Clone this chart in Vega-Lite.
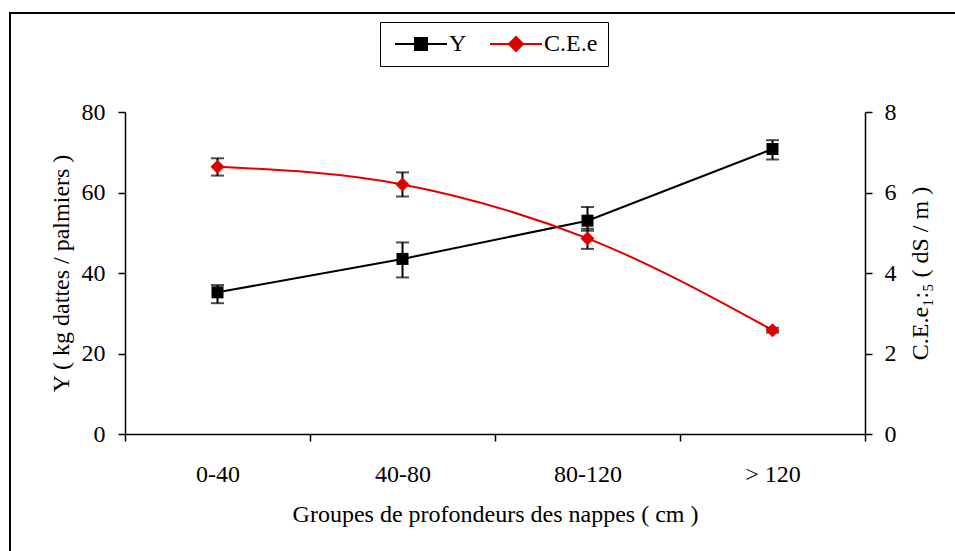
{
  "$schema": "https://vega.github.io/schema/vega-lite/v6.json",
  "width": 955,
  "height": 552,
  "autosize": {"type": "none"},
  "padding": {"left": 10, "top": 13, "right": 0, "bottom": 0},
  "background": "white",
  "config": {
    "font": "Liberation Serif",
    "view": {"stroke": "black", "strokeWidth": 2},
    "axis": {
      "labelFont": "Liberation Serif",
      "titleFont": "Liberation Serif",
      "labelFontSize": 24,
      "titleFontSize": 24,
      "labelColor": "black",
      "titleColor": "black",
      "domainColor": "black",
      "tickColor": "black",
      "domainWidth": 1.5,
      "tickWidth": 1.5,
      "tickSize": 7,
      "grid": false,
      "titleFontWeight": "normal"
    },
    "legend": {
      "labelFont": "Liberation Serif",
      "labelFontSize": 24,
      "labelColor": "black"
    }
  },
  "datasets": {
    "Y": [
      {"g": "0-40", "s": "Y", "v": 35.2, "lo": 32.5, "hi": 37.0},
      {"g": "40-80", "s": "Y", "v": 43.5, "lo": 38.9, "hi": 47.6},
      {"g": "80-120", "s": "Y", "v": 53.0, "lo": 50.5, "hi": 56.4},
      {"g": "> 120", "s": "Y", "v": 70.8, "lo": 68.2, "hi": 73.0}
    ],
    "CE": [
      {"g": "0-40", "s": "C.E.e", "v": 6.64, "lo": 6.42, "hi": 6.85},
      {"g": "40-80", "s": "C.E.e", "v": 6.2, "lo": 5.9, "hi": 6.5},
      {"g": "80-120", "s": "C.E.e", "v": 4.86, "lo": 4.6, "hi": 5.1},
      {"g": "> 120", "s": "C.E.e", "v": 2.58, "lo": 2.52, "hi": 2.64}
    ]
  },
  "encoding": {
    "x": {
      "field": "g",
      "type": "nominal",
      "sort": ["0-40", "40-80", "80-120", "> 120"],
      "scale": {"type": "band", "paddingInner": 0, "paddingOuter": 0, "range": [115, 855]},
      "axis": {
        "title": "Groupes de profondeurs des nappes ( cm )",
        "labelAngle": 0,
        "tickBand": "extent",
        "offset": -131,
        "labelPadding": 21,
        "titlePadding": 16
      }
    },
    "color": {
      "field": "s",
      "type": "nominal",
      "scale": {"domain": ["Y", "C.E.e"], "range": ["black", "#e00000"]},
      "legend": {
        "title": null,
        "orient": "none",
        "legendX": 370,
        "legendY": 9,
        "direction": "horizontal",
        "strokeColor": "black",
        "padding": 10,
        "symbolSize": 400,
        "labelOffset": 16,
        "columnPadding": 18,
        "symbolOffset": 19,
        "encode": {
          "symbols": {
            "update": {
              "shape": {"signal": "datum.value === 'Y' ? 'M-2.6,0H2.6M-0.6,-0.6H0.6V0.6H-0.6Z' : 'M-2.6,0H2.6M0,-0.7L0.7,0L0,0.7L-0.7,0Z'"},
              "fill": {"signal": "scale('color', datum.value)"},
              "stroke": {"signal": "scale('color', datum.value)"},
              "strokeWidth": {"value": 2},
              "opacity": {"value": 1}
            }
          }
        }
      }
    }
  },
  "layer": [
    {
      "data": {"name": "Y"},
      "layer": [
        {
          "mark": {"type": "line", "strokeWidth": 2},
          "encoding": {
            "y": {"field": "v", "type": "quantitative", "scale": {"domain": [0, 80], "nice": false, "range": [421, 99]},
              "axis": {"orient": "left", "offset": -115, "values": [0, 20, 40, 60, 80], "title": "Y ( kg dattes / palmiers )", "labelPadding": 13, "titlePadding": 8}}
          }
        },
        {
          "mark": {"type": "rule", "strokeWidth": 2, "color": "black"},
          "encoding": {
            "y": {"field": "lo", "type": "quantitative", "scale": {"domain": [0, 80], "nice": false, "range": [421, 99]}, "axis": {"orient": "left", "offset": -115, "values": [0, 20, 40, 60, 80], "title": "Y ( kg dattes / palmiers )", "labelPadding": 13, "titlePadding": 8}},
            "y2": {"field": "hi"},
            "color": {"value": "black"}
          }
        },
        {
          "mark": {"type": "tick", "thickness": 2, "size": 13, "color": "black"},
          "encoding": {
            "y": {"field": "lo", "type": "quantitative", "scale": {"domain": [0, 80], "nice": false, "range": [421, 99]}, "axis": {"orient": "left", "offset": -115, "values": [0, 20, 40, 60, 80], "title": "Y ( kg dattes / palmiers )", "labelPadding": 13, "titlePadding": 8}},
            "color": {"value": "black"}
          }
        },
        {
          "mark": {"type": "tick", "thickness": 2, "size": 13, "color": "black"},
          "encoding": {
            "y": {"field": "hi", "type": "quantitative", "scale": {"domain": [0, 80], "nice": false, "range": [421, 99]}, "axis": {"orient": "left", "offset": -115, "values": [0, 20, 40, 60, 80], "title": "Y ( kg dattes / palmiers )", "labelPadding": 13, "titlePadding": 8}},
            "color": {"value": "black"}
          }
        },
        {
          "mark": {"type": "point", "shape": "square", "filled": true, "size": 144, "opacity": 1},
          "encoding": {
            "y": {"field": "v", "type": "quantitative", "scale": {"domain": [0, 80], "nice": false, "range": [421, 99]}, "axis": {"orient": "left", "offset": -115, "values": [0, 20, 40, 60, 80], "title": "Y ( kg dattes / palmiers )", "labelPadding": 13, "titlePadding": 8}}
          }
        }
      ]
    },
    {
      "data": {"name": "CE"},
      "layer": [
        {
          "mark": {"type": "line", "strokeWidth": 2, "interpolate": "monotone"},
          "encoding": {
            "y": {"field": "v", "type": "quantitative", "scale": {"domain": [0, 8], "nice": false, "range": [421, 99]},
              "axis": {"orient": "right", "offset": -100, "values": [0, 2, 4, 6, 8], "title": "C.E.e₁:₅ ( dS / m )", "titleAngle": 270, "labelPadding": 12, "titlePadding": 36}}
          }
        },
        {
          "mark": {"type": "rule", "strokeWidth": 2, "color": "black"},
          "encoding": {
            "y": {"field": "lo", "type": "quantitative", "scale": {"domain": [0, 8], "nice": false, "range": [421, 99]}, "axis": {"orient": "right", "offset": -100, "values": [0, 2, 4, 6, 8], "title": "C.E.e₁:₅ ( dS / m )", "titleAngle": 270, "labelPadding": 12, "titlePadding": 36}},
            "y2": {"field": "hi"},
            "color": {"value": "black"}
          }
        },
        {
          "mark": {"type": "tick", "thickness": 2, "size": 13, "color": "black"},
          "encoding": {
            "y": {"field": "lo", "type": "quantitative", "scale": {"domain": [0, 8], "nice": false, "range": [421, 99]}, "axis": {"orient": "right", "offset": -100, "values": [0, 2, 4, 6, 8], "title": "C.E.e₁:₅ ( dS / m )", "titleAngle": 270, "labelPadding": 12, "titlePadding": 36}},
            "color": {"value": "black"}
          }
        },
        {
          "mark": {"type": "tick", "thickness": 2, "size": 13, "color": "black"},
          "encoding": {
            "y": {"field": "hi", "type": "quantitative", "scale": {"domain": [0, 8], "nice": false, "range": [421, 99]}, "axis": {"orient": "right", "offset": -100, "values": [0, 2, 4, 6, 8], "title": "C.E.e₁:₅ ( dS / m )", "titleAngle": 270, "labelPadding": 12, "titlePadding": 36}},
            "color": {"value": "black"}
          }
        },
        {
          "mark": {"type": "point", "shape": "diamond", "filled": true, "size": 196, "opacity": 1},
          "encoding": {
            "y": {"field": "v", "type": "quantitative", "scale": {"domain": [0, 8], "nice": false, "range": [421, 99]}, "axis": {"orient": "right", "offset": -100, "values": [0, 2, 4, 6, 8], "title": "C.E.e₁:₅ ( dS / m )", "titleAngle": 270, "labelPadding": 12, "titlePadding": 36}}
          }
        }
      ]
    }
  ],
  "resolve": {"scale": {"y": "independent"}}
}
